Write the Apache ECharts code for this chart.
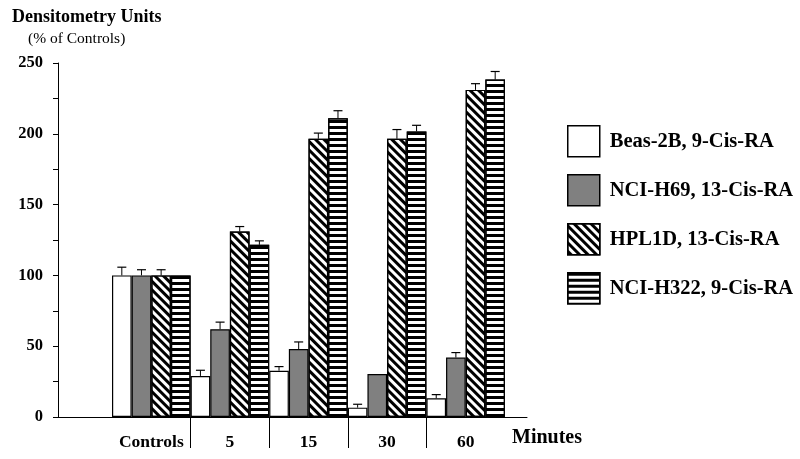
<!DOCTYPE html>
<html>
<head>
<meta charset="utf-8">
<script src="https://cdn.jsdelivr.net/npm/echarts@6/dist/echarts.min.js"></script>
<style>html,body{margin:0;padding:0;background:#fff;}#c{width:800px;height:459px;}</style>
</head>
<body>
<div id="c"></div>
<script>
const categories = ['Controls', '5', '15', '30', '60'];
const seriesNames = ['Beas-2B, 9-Cis-RA', 'NCI-H69, 13-Cis-RA', 'HPL1D, 13-Cis-RA', 'NCI-H322, 9-Cis-RA'];
const beasValues = [100, 29, 32.7, 6.6, 13.2];
const beasErrTop = [105.8, 33, 35.6, 9, 15.8];
const h69Values = [100, 62, 48, 30.4, 42];
const h69ErrTop = [104, 67, 53, null, 45.5];
const hpl1dValues = [100, 131, 196.5, 196.5, 231];
const hpl1dErrTop = [104, 134.5, 200.5, 203, 235.4];
const h322Values = [100, 121.6, 211, 201.7, 238.3];
const h322ErrTop = [null, 124.4, 216.3, 206, 244];
const yTicks = [0, 50, 100, 150, 200, 250];
const separatorPositions = [1, 2, 3, 4];

const FONT = 'Liberation Serif';
const valuesList = [beasValues, h69Values, hpl1dValues, h322Values];
const errList = [beasErrTop, h69ErrTop, hpl1dErrTop, h322ErrTop];

const styles = [
  { color: '#ffffff', borderColor: '#000', borderWidth: 1.2 },
  { color: '#808080', borderColor: '#000', borderWidth: 1.2 },
  { color: '#ffffff', borderColor: '#000', borderWidth: 1.2,
    decal: { symbol: 'rect', symbolSize: 1, dashArrayX: [1, 0], dashArrayY: [2.9, 2.9], rotation: Math.PI / 4, color: '#000' } },
  { color: '#ffffff', borderColor: '#000', borderWidth: 1.2,
    decal: { symbol: 'rect', symbolSize: 1, dashArrayX: [1, 0], dashArrayY: [2.2, 2.5], rotation: 0, color: '#000' } }
];

const errData = [];
errList.forEach((arr, si) => {
  arr.forEach((e, ci) => {
    if (e != null) errData.push([ci, si, valuesList[si][ci], e]);
  });
});

const barSeries = seriesNames.map((name, i) => ({
  name: name,
  type: 'bar',
  xAxisIndex: 1,
  yAxisIndex: 1,
  data: valuesList[i],
  barGap: '0%',
  barCategoryGap: '0%',
  itemStyle: styles[i],
  emphasis: { disabled: true },
  animation: false
}));

const chart = echarts.init(document.getElementById('c'), null, { renderer: 'canvas' });
chart.setOption({
  backgroundColor: '#ffffff',
  animation: false,
  grid: [
    { left: 58, right: 273, top: 63, height: 354 },
    { left: 112, right: 295, top: 63, height: 354 },
    { left: 112, right: 295, top: 63, height: 354 }
  ],
  xAxis: [
    { type: 'value', gridIndex: 0, min: 0, max: 1,
      axisLine: { show: true, lineStyle: { color: '#000', width: 1 } },
      axisTick: { show: false }, axisLabel: { show: false }, splitLine: { show: false } },
    { type: 'category', gridIndex: 1, data: categories,
      axisLine: { show: false }, axisTick: { show: false }, splitLine: { show: false },
      axisLabel: { interval: 0, hideOverlap: false, color: '#000', fontFamily: FONT, fontWeight: 'bold', fontSize: 17.5, margin: 16 } },
    { type: 'value', gridIndex: 2, min: 0, max: 5,
      axisLine: { show: false }, splitLine: { show: false }, axisLabel: { show: false },
      axisTick: { show: true, length: 31, customValues: separatorPositions, lineStyle: { color: '#000', width: 1 } } }
  ],
  yAxis: [
    { type: 'value', gridIndex: 0, min: 0, max: 250, interval: 25,
      axisLine: { show: true, lineStyle: { color: '#000', width: 1 } },
      axisTick: { show: true, length: 5, lineStyle: { color: '#000' } },
      splitLine: { show: false },
      axisLabel: { color: '#000', fontFamily: FONT, fontWeight: 'bold', fontSize: 16.5, margin: 15,
        formatter: v => (yTicks.indexOf(v) >= 0 ? String(v) : '') } },
    { type: 'value', gridIndex: 1, min: 0, max: 250, show: false },
    { type: 'value', gridIndex: 2, min: 0, max: 250, show: false }
  ],
  legend: {
    orient: 'vertical',
    left: 567, top: 125,
    itemWidth: 32, itemHeight: 31, itemGap: 16.5,
    padding: 0,
    icon: 'rect',
    data: seriesNames,
    itemStyle: { borderColor: '#000', borderWidth: 1.5 },
    textStyle: { color: '#000', fontFamily: FONT, fontWeight: 'bold', fontSize: 20.5, padding: [0, 0, 0, 5] },
    selectedMode: false
  },
  graphic: [
    { type: 'text', left: 12, top: 8, style: { text: 'Densitometry Units', fill: '#000', font: 'bold 18px "Liberation Serif"' } },
    { type: 'text', left: 28, top: 31, style: { text: '(% of Controls)', fill: '#000', font: '15.5px "Liberation Serif"' } },
    { type: 'text', left: 512, top: 428, style: { text: 'Minutes', fill: '#000', font: 'bold 20px "Liberation Serif"' } }
  ],
  series: barSeries.concat([{
    type: 'custom',
    xAxisIndex: 1,
    yAxisIndex: 1,
    data: errData,
    z: 5,
    silent: true,
    renderItem: function (params, api) {
      const ci = api.value(0), si = api.value(1);
      const band = api.size([1, 0])[0];
      const base = api.coord([ci, api.value(2)]);
      const top = api.coord([ci, api.value(3)]);
      const x = base[0] + (si - 1.5) * band / 4;
      const cap = 4.5;
      return {
        type: 'group',
        children: [
          { type: 'line', shape: { x1: x, y1: base[1], x2: x, y2: top[1] }, style: { stroke: '#000', lineWidth: 1 } },
          { type: 'line', shape: { x1: x - cap, y1: top[1], x2: x + cap, y2: top[1] }, style: { stroke: '#000', lineWidth: 1.2 } }
        ]
      };
    }
  }])
});
</script>
</body>
</html>
